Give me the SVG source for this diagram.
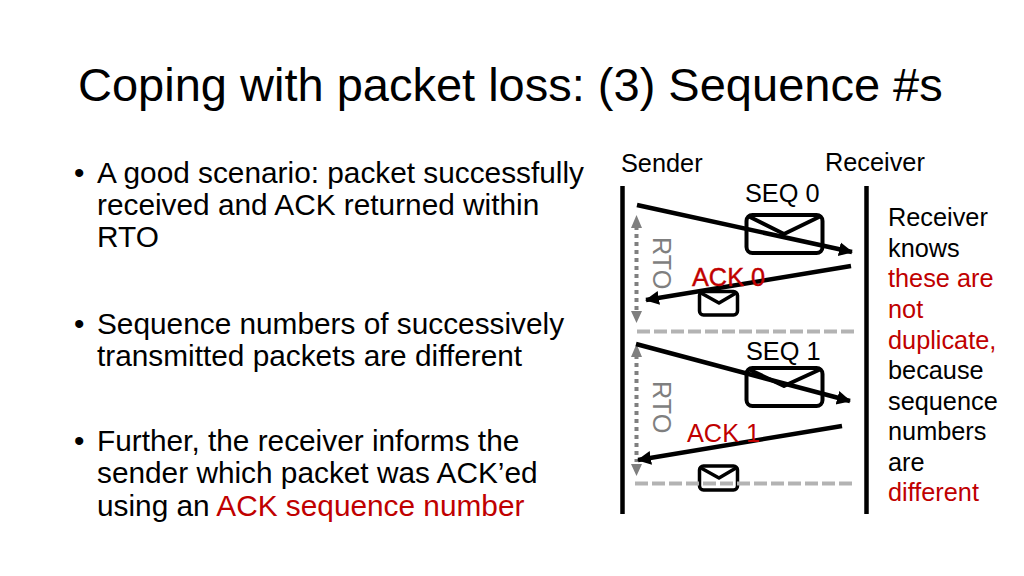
<svg xmlns="http://www.w3.org/2000/svg" width="1024" height="576" viewBox="0 0 1024 576">
<style>
text{font-family:"Liberation Sans",Arial,sans-serif}
.title{font-size:47px;fill:#000}
.body{font-size:29.800px;fill:#000}
.lab{font-size:25.300px;fill:#000}
.side{font-size:25.300px;fill:#000}
.red{fill:#c00000}
.gray{fill:#7f7f7f}
.life{stroke:#000;stroke-width:4.5;fill:none}
.msg{stroke:#000;stroke-width:4.5;fill:none}
.dash{stroke:#b3b3b3;stroke-width:4;stroke-dasharray:13 4;fill:none}
.rto{stroke:#7f7f7f;stroke-width:4;stroke-dasharray:4 4;fill:none}
.env{fill:none;stroke:#000;stroke-width:4;stroke-linejoin:round}
.envs{fill:none;stroke:#000;stroke-width:3.5;stroke-linejoin:round}
</style>
<defs>
<marker id="ah" markerUnits="userSpaceOnUse" markerWidth="18" markerHeight="18" refX="13" refY="8" orient="auto"><path d="M0 1L14 8L0 15z" fill="#000"/></marker>
</defs>
<g id="title"><text class="title" x="78" y="101">Coping with packet loss: (3) Sequence #s</text></g>
<g id="bullets">
<text class="body" x="74" y="183">•</text>
<text class="body" x="97" y="183">A good scenario: packet successfully</text>
<text class="body" x="97" y="215">received and ACK returned within</text>
<text class="body" x="97" y="247">RTO</text>
<text class="body" x="74" y="334">•</text>
<text class="body" x="97" y="334">Sequence numbers of successively</text>
<text class="body" x="97" y="366">transmitted packets are different</text>
<text class="body" x="74" y="451">•</text>
<text class="body" x="97" y="451">Further, the receiver informs the</text>
<text class="body" x="97" y="483">sender which packet was ACK’ed</text>
<text class="body" x="97" y="516">using an <tspan class="red">ACK sequence number</tspan></text>
</g>
<g id="sender"><text class="lab" x="621" y="172">Sender</text><line class="life" x1="622.500" y1="186" x2="622.500" y2="514"/></g>
<g id="receiver"><text class="lab" x="825" y="171">Receiver</text><line class="life" x1="866.500" y1="186" x2="866.500" y2="514"/></g>
<g id="envelope-seq0"><rect class="env" x="746.500" y="215" width="76" height="38" rx="6"/><path class="env" d="M748 216L784 234L821 216"/></g>
<g id="envelope-ack0"><rect class="envs" x="699.500" y="291.500" width="38" height="23.500" rx="4"/><path class="envs" d="M701 293L719 303L736 293"/></g>
<g id="envelope-seq1"><rect class="env" x="746.500" y="368" width="76" height="38" rx="6"/><path class="env" d="M748 369L784 386L821 369"/></g>
<g id="envelope-ack1"><rect class="envs" x="699.500" y="466" width="38" height="24" rx="4"/><path class="envs" d="M701 468L719 478L736 468"/></g>
<g id="connectors">
<line class="dash" x1="637" y1="331.500" x2="855" y2="331.500"/>
<line class="dash" x1="635" y1="483.500" x2="853" y2="483.500"/>
<line class="rto" x1="636.500" y1="226" x2="636.500" y2="312"/>
<path d="M636.500 215L631 228H642z M636.500 323L631 311H642z" fill="#7f7f7f"/>
<line class="rto" x1="636.500" y1="355" x2="636.500" y2="462"/>
<path d="M636.500 344L631 357H642z M636.500 476L631 464H642z" fill="#7f7f7f"/>
<line class="msg" x1="637" y1="205" x2="852" y2="252" marker-end="url(#ah)"/>
<line class="msg" x1="851" y1="266" x2="646" y2="300" marker-end="url(#ah)"/>
<line class="msg" x1="636" y1="344" x2="850" y2="401" marker-end="url(#ah)"/>
<line class="msg" x1="842" y1="426" x2="638" y2="460" marker-end="url(#ah)"/>
</g>
<g id="labels">
<text class="lab" x="745" y="202">SEQ 0</text>
<text class="lab" x="746" y="360">SEQ 1</text>
<text class="lab red" x="692" y="286" stroke="#c00000" stroke-width="0.4">ACK 0</text>
<text class="lab red" x="687" y="442">ACK 1</text>
<text class="lab gray" transform="translate(653,237) rotate(90)">RTO</text>
<text class="lab gray" transform="translate(653,381) rotate(90)">RTO</text>
</g>
<g id="note">
<text class="side" x="888" y="226">Receiver</text>
<text class="side" x="888" y="257">knows</text>
<text class="side red" x="888" y="287">these are</text>
<text class="side red" x="888" y="318">not</text>
<text class="side red" x="888" y="349">duplicate,</text>
<text class="side" x="888" y="379">because</text>
<text class="side" x="888" y="410">sequence</text>
<text class="side" x="888" y="440">numbers</text>
<text class="side" x="888" y="471">are</text>
<text class="side red" x="888" y="501">different</text>
</g>
</svg>
